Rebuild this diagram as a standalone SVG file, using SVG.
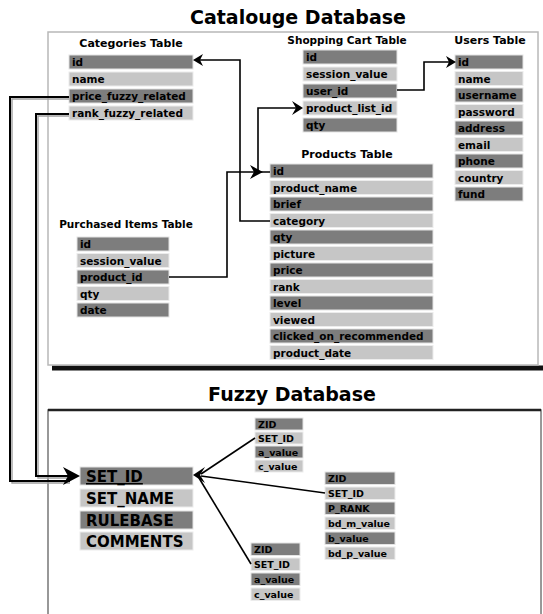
<svg xmlns="http://www.w3.org/2000/svg" width="543" height="614" viewBox="0 0 543 614">
  <style>
    .dk { fill: #7d7d7d; stroke: #e4e4e4; stroke-width: 1; }
    .lt { fill: #c6c6c6; stroke: #ececec; stroke-width: 1; }
    text { font-family: "DejaVu Sans", "Liberation Sans", sans-serif; font-weight: bold; fill: #000; }
    .f { font-size: 10.5px; }
    .fs { font-size: 9.5px; }
    .fl { font-size: 15px; }
    .cap { font-size: 11px; text-anchor: middle; }
    .title { font-size: 19px; text-anchor: middle; }
    .wire { fill: none; stroke: #000; stroke-width: 2; }
    .thin { fill: none; stroke: #000; stroke-width: 1.6; }
    .shade { fill: none; stroke: #a0a0a0; stroke-width: 1.4; }
    .head { fill: #000; }
  </style>

  <!-- Database frames -->
  <g id="catalogue-frame">
    <line x1="52" y1="368" x2="543" y2="368" stroke="#111" stroke-width="5"/>
    <rect x="48" y="32" width="490" height="333" fill="#fff" stroke="#b8b8b8" stroke-width="1.5"/>
    <text class="title" x="298" y="24">Catalouge Database</text>
  </g>
  <g id="fuzzy-frame">
    <rect x="48" y="410" width="493" height="210" fill="#fff" stroke="#777" stroke-width="1.5"/>
    <line x1="48" y1="410" x2="541" y2="410" stroke="#222" stroke-width="2.5"/>
    <text class="title" x="292" y="401">Fuzzy Database</text>
  </g>

  <!-- Catalogue tables -->
  <g id="categories-table">
    <text class="cap" x="131" y="47">Categories Table</text>
    <rect class="dk" x="69" y="55" width="124" height="14"/><text class="f" x="72" y="66">id</text>
    <rect class="lt" x="69" y="72" width="124" height="14"/><text class="f" x="72" y="83">name</text>
    <rect class="dk" x="69" y="89" width="124" height="14"/><text class="f" x="72" y="100">price_fuzzy_related</text>
    <rect class="lt" x="69" y="106" width="124" height="14"/><text class="f" x="72" y="117">rank_fuzzy_related</text>
  </g>

  <g id="shopping-cart-table">
    <text class="cap" x="347" y="44" style="font-size:10.5px">Shopping Cart Table</text>
    <rect class="dk" x="303" y="50" width="94" height="14"/><text class="f" x="306" y="61">id</text>
    <rect class="lt" x="303" y="67" width="94" height="14"/><text class="f" x="306" y="78">session_value</text>
    <rect class="dk" x="303" y="84" width="94" height="14"/><text class="f" x="306" y="95">user_id</text>
    <rect class="lt" x="303" y="101" width="94" height="14"/><text class="f" x="306" y="112">product_list_id</text>
    <rect class="dk" x="303" y="118" width="94" height="14"/><text class="f" x="306" y="129">qty</text>
  </g>

  <g id="users-table">
    <text class="cap" x="490" y="44">Users Table</text>
    <rect class="dk" x="455" y="55" width="68" height="14"/><text class="f" x="458" y="66">id</text>
    <rect class="lt" x="455" y="71.5" width="68" height="14"/><text class="f" x="458" y="82.5">name</text>
    <rect class="dk" x="455" y="88" width="68" height="14"/><text class="f" x="458" y="99">username</text>
    <rect class="lt" x="455" y="104.5" width="68" height="14"/><text class="f" x="458" y="115.5">password</text>
    <rect class="dk" x="455" y="121" width="68" height="14"/><text class="f" x="458" y="132">address</text>
    <rect class="lt" x="455" y="137.5" width="68" height="14"/><text class="f" x="458" y="148.5">email</text>
    <rect class="dk" x="455" y="154" width="68" height="14"/><text class="f" x="458" y="165">phone</text>
    <rect class="lt" x="455" y="170.5" width="68" height="14"/><text class="f" x="458" y="181.5">country</text>
    <rect class="dk" x="455" y="187" width="68" height="14"/><text class="f" x="458" y="198">fund</text>
  </g>

  <g id="products-table">
    <text class="cap" x="347" y="158">Products Table</text>
    <rect class="dk" x="270" y="164" width="163" height="14"/><text class="f" x="273" y="175">id</text>
    <rect class="lt" x="270" y="180.5" width="163" height="14"/><text class="f" x="273" y="191.5">product_name</text>
    <rect class="dk" x="270" y="197" width="163" height="14"/><text class="f" x="273" y="208">brief</text>
    <rect class="lt" x="270" y="213.5" width="163" height="14"/><text class="f" x="273" y="224.5">category</text>
    <rect class="dk" x="270" y="230" width="163" height="14"/><text class="f" x="273" y="241">qty</text>
    <rect class="lt" x="270" y="246.5" width="163" height="14"/><text class="f" x="273" y="257.5">picture</text>
    <rect class="dk" x="270" y="263" width="163" height="14"/><text class="f" x="273" y="274">price</text>
    <rect class="lt" x="270" y="279.5" width="163" height="14"/><text class="f" x="273" y="290.5">rank</text>
    <rect class="dk" x="270" y="296" width="163" height="14"/><text class="f" x="273" y="307">level</text>
    <rect class="lt" x="270" y="312.5" width="163" height="14"/><text class="f" x="273" y="323.5">viewed</text>
    <rect class="dk" x="270" y="329" width="163" height="14"/><text class="f" x="273" y="340">clicked_on_recommended</text>
    <rect class="lt" x="270" y="345.5" width="163" height="14"/><text class="f" x="273" y="356.5">product_date</text>
  </g>

  <g id="purchased-items-table">
    <text class="cap" x="126" y="228" style="font-size:10.5px">Purchased Items Table</text>
    <rect class="dk" x="77" y="237" width="92" height="14"/><text class="f" x="80" y="248">id</text>
    <rect class="lt" x="77" y="253.5" width="92" height="14"/><text class="f" x="80" y="264.5">session_value</text>
    <rect class="dk" x="77" y="270" width="92" height="14"/><text class="f" x="80" y="281">product_id</text>
    <rect class="lt" x="77" y="286.5" width="92" height="14"/><text class="f" x="80" y="297.5">qty</text>
    <rect class="dk" x="77" y="303" width="92" height="14"/><text class="f" x="80" y="314">date</text>
  </g>

  <!-- Fuzzy tables -->
  <g id="fuzzy-sets-table">
    <rect class="dk" x="80" y="467" width="113" height="18"/><text class="fl" x="86" y="482" text-decoration="underline">SET_ID</text>
    <rect class="lt" x="80" y="489" width="113" height="18"/><text class="fl" x="86" y="504">SET_NAME</text>
    <rect class="dk" x="80" y="511" width="113" height="18"/><text class="fl" x="86" y="526">RULEBASE</text>
    <rect class="lt" x="80" y="532" width="113" height="18"/><text class="fl" x="86" y="547">COMMENTS</text>
  </g>

  <g id="fuzzy-ac-table-top">
    <rect class="dk" x="255" y="418" width="48" height="12"/><text class="fs" x="258" y="428">ZID</text>
    <rect class="lt" x="255" y="432" width="48" height="12"/><text class="fs" x="258" y="442">SET_ID</text>
    <rect class="dk" x="255" y="446" width="48" height="12"/><text class="fs" x="258" y="456">a_value</text>
    <rect class="lt" x="255" y="460" width="48" height="12"/><text class="fs" x="258" y="470">c_value</text>
  </g>

  <g id="fuzzy-rank-table">
    <rect class="dk" x="325" y="472" width="70" height="12.5"/><text class="fs" x="328" y="482">ZID</text>
    <rect class="lt" x="325" y="487" width="70" height="12.5"/><text class="fs" x="328" y="497">SET_ID</text>
    <rect class="dk" x="325" y="502" width="70" height="12.5"/><text class="fs" x="328" y="512">P_RANK</text>
    <rect class="lt" x="325" y="517" width="70" height="12.5"/><text class="fs" x="328" y="527">bd_m_value</text>
    <rect class="dk" x="325" y="532" width="70" height="12.5"/><text class="fs" x="328" y="542">b_value</text>
    <rect class="lt" x="325" y="547" width="70" height="12.5"/><text class="fs" x="328" y="557">bd_p_value</text>
  </g>

  <g id="fuzzy-ac-table-bottom">
    <rect class="dk" x="251" y="543" width="49" height="12.5"/><text class="fs" x="254" y="553">ZID</text>
    <rect class="lt" x="251" y="558" width="49" height="12.5"/><text class="fs" x="254" y="568">SET_ID</text>
    <rect class="dk" x="251" y="573" width="49" height="12.5"/><text class="fs" x="254" y="583">a_value</text>
    <rect class="lt" x="251" y="588" width="49" height="12.5"/><text class="fs" x="254" y="598">c_value</text>
  </g>

  <!-- Connectors -->
  <g id="connectors">
    <!-- light offset shadows under the long links -->
    <path class="shade" d="M69,99 H12 V483 H70"/>
    <path class="shade" d="M69,116 H38 V478 H70"/>

    <!-- categories.price_fuzzy_related / rank_fuzzy_related -> fuzzy SET_ID -->
    <path class="wire" d="M69,97 H10 V481 H70"/>
    <path class="wire" d="M69,114 H36 V476 H70"/>
    <polygon class="head" points="80,476 63,467 68,476 63,485"/>

    <!-- products.category -> categories.id -->
    <path class="thin" d="M270,221 H240 V60 H200"/>
    <polygon class="head" points="193,60 203,54 200,60 203,66"/>

    <!-- products.id -> shopping cart product_list_id -->
    <path class="thin" d="M270,172 H258 V108 H296"/>
    <polygon class="head" points="303,108 292,101 296,108 292,115"/>

    <!-- purchased.product_id -> products.id -->
    <path class="thin" d="M169,277 H227 V172 H256"/>
    <polygon class="head" points="263,172 250,165 254,172 250,179"/>

    <!-- shopping cart user_id -> users.id -->
    <path class="thin" d="M397,90 H424 V62 H450"/>
    <polygon class="head" points="456,62 446,56 449,62 446,68"/>

    <!-- fuzzy sub tables SET_ID -> fuzzy SET_ID -->
    <path class="thin" d="M201,474 L255,438"/>
    <path class="thin" d="M201,476 L325,493"/>
    <path class="thin" d="M199,478 L251,564"/>
    <polygon class="head" points="193,475 205,467 200,475 205,483"/>
  </g>
</svg>
